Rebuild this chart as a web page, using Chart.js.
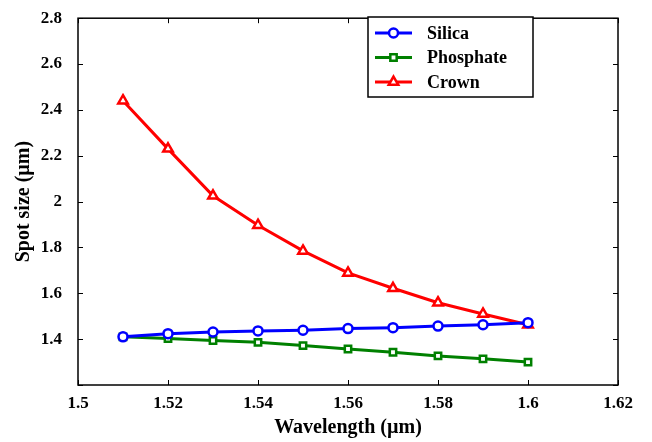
<!DOCTYPE html>
<html lang="en">
<head>
  <meta charset="UTF-8" />
  <title>Spot size vs wavelength</title>
  <script src="https://cdn.jsdelivr.net/npm/chart.js"></script>
  <style>
    body { margin: 0; background: #ffffff; }
    #wrap { width: 652px; height: 442px; }
  </style>
</head>
<body>
  <div id="wrap"><canvas id="spotChart" width="652" height="442"></canvas></div>

  <script>
    const wavelengths = [1.51, 1.52, 1.53, 1.54, 1.55, 1.56, 1.57, 1.58, 1.59, 1.60];
    const silica    = [1.410, 1.424, 1.431, 1.436, 1.439, 1.446, 1.450, 1.457, 1.463, 1.472];
    const phosphate = [1.410, 1.403, 1.394, 1.386, 1.372, 1.357, 1.343, 1.327, 1.314, 1.300];
    const crown     = [2.440, 2.230, 2.025, 1.897, 1.785, 1.689, 1.622, 1.559, 1.510, 1.463];
    const xTicks = [1.5, 1.52, 1.54, 1.56, 1.58, 1.6, 1.62];
    const yTicks = [1.2, 1.4, 1.6, 1.8, 2, 2.2, 2.4, 2.6, 2.8];

    const serif = "'Liberation Serif', 'Times New Roman', serif";
    const toPoints = ys => ys.map((y, i) => ({ x: wavelengths[i], y }));
    const fmt = v => String(+v.toFixed(2));

    // inward ticks on all four sides + frame
    const frameTicks = {
      id: 'frameTicks',
      afterDraw(chart) {
        const { ctx, chartArea: a, scales } = chart;
        ctx.save();
        ctx.strokeStyle = '#000';
        ctx.lineWidth = 1;
        const len = 5;
        scales.x.ticks.forEach(t => {
          const px = Math.round(scales.x.getPixelForValue(t.value)) + 0.5;
          ctx.beginPath();
          ctx.moveTo(px, a.bottom); ctx.lineTo(px, a.bottom - len);
          ctx.moveTo(px, a.top); ctx.lineTo(px, a.top + len);
          ctx.stroke();
        });
        scales.y.ticks.forEach(t => {
          const py = Math.round(scales.y.getPixelForValue(t.value)) + 0.5;
          ctx.beginPath();
          ctx.moveTo(a.left, py); ctx.lineTo(a.left + len, py);
          ctx.moveTo(a.right, py); ctx.lineTo(a.right - len, py);
          ctx.stroke();
        });
        ctx.lineWidth = 1.5;
        ctx.strokeRect(a.left, a.top, a.right - a.left, a.bottom - a.top);
        ctx.restore();
      }
    };

    // boxed legend inside the plot, top right
    const boxLegend = {
      id: 'boxLegend',
      afterDraw(chart) {
        const ctx = chart.ctx;
        const x0 = 368, y0 = 17, w = 165, h = 80;
        ctx.save();
        ctx.fillStyle = '#fff';
        ctx.fillRect(x0, y0, w, h);
        ctx.strokeStyle = '#000';
        ctx.lineWidth = 1.5;
        ctx.strokeRect(x0, y0, w, h);
        chart.data.datasets.forEach((ds, i) => {
          const cy = 33 + i * 24.5;
          ctx.strokeStyle = ds.borderColor;
          ctx.lineWidth = 3;
          ctx.beginPath();
          ctx.moveTo(375, cy); ctx.lineTo(412, cy);
          ctx.stroke();
          ctx.fillStyle = '#fff';
          ctx.lineWidth = ds.pointBorderWidth;
          Chart.helpers.drawPoint(ctx, {
            pointStyle: ds.pointStyle,
            radius: ds.pointRadius,
            borderWidth: ds.pointBorderWidth
          }, 393.5, cy);
          ctx.fillStyle = '#000';
          ctx.font = `bold 18px ${serif}`;
          ctx.textBaseline = 'middle';
          ctx.fillText(ds.label, 427, cy + 1);
        });
        ctx.restore();
      }
    };

    const makeSet = (label, data, color, style, r) => ({
      label,
      data: toPoints(data),
      borderColor: color,
      backgroundColor: '#fff',
      borderWidth: 3,
      pointStyle: style,
      pointRadius: r,
      pointBorderWidth: 2.5,
      pointBackgroundColor: '#fff',
      pointBorderColor: color,
      tension: 0
    });

    new Chart(document.getElementById('spotChart'), {
      type: 'line',
      data: {
        datasets: [
          makeSet('Silica', silica, '#0000ff', 'circle', 4.5),
          makeSet('Phosphate', phosphate, '#008000', 'rect', 4.5),
          makeSet('Crown', crown, '#ff0000', 'triangle', 5.5)
        ]
      },
      options: {
        responsive: false,
        animation: false,
        layout: { padding: { left: 0, top: 13, right: 34, bottom: 2 } },
        plugins: { legend: { display: false }, tooltip: { enabled: false } },
        scales: {
          x: {
            type: 'linear',
            min: 1.5, max: 1.62,
            afterBuildTicks: s => { s.ticks = xTicks.map(v => ({ value: v })); },
            afterFit: s => { s.height = 55; },
            grid: { display: false },
            border: { display: false },
            ticks: {
              color: '#000', padding: 0, maxRotation: 0,
              font: { family: serif, size: 17, weight: 'bold' },
              callback: v => fmt(v)
            },
            title: {
              display: true, text: 'Wavelength (µm)', color: '#000',
              font: { family: serif, size: 20, weight: 'bold' },
              padding: { top: 0, bottom: 0 }
            }
          },
          y: {
            min: 1.2, max: 2.8,
            afterBuildTicks: s => { s.ticks = yTicks.map(v => ({ value: v })); },
            afterFit: s => { s.width = 78; },
            grid: { display: false },
            border: { display: false },
            ticks: {
              color: '#000', padding: 8,
              font: { family: serif, size: 17, weight: 'bold' },
              callback: v => (v === 1.2 ? '' : fmt(v))
            },
            title: {
              display: true, text: 'Spot size (µm)', color: '#000',
              font: { family: serif, size: 20, weight: 'bold' },
              padding: { top: 12, bottom: 0 }
            }
          }
        }
      },
      plugins: [frameTicks, boxLegend]
    });
  </script>
</body>
</html>
